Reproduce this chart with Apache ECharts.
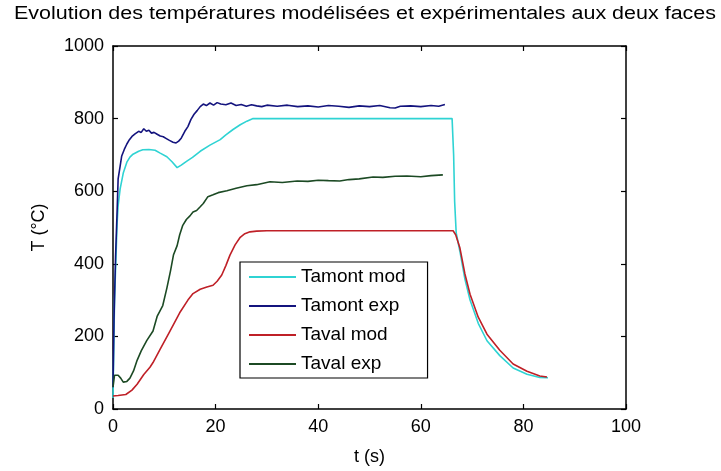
<!DOCTYPE html>
<html>
<head>
<meta charset="utf-8">
<script src="https://cdn.jsdelivr.net/npm/echarts@6/dist/echarts.min.js"></script>
<style>
  html, body { margin: 0; padding: 0; background: #fff; }
  #chart { width: 721px; height: 471px; }
</style>
</head>
<body>
<div id="chart"></div>
<script>
// Temperature histories (time in s, temperature in °C)
const titleText = 'Evolution des températures modélisées et expérimentales aux deux faces';
const seriesNames = ['Tamont mod', 'Tamont exp', 'Taval mod', 'Taval exp'];
const xTicks = [0, 20, 40, 60, 80, 100];
const yTicks = [0, 200, 400, 600, 800, 1000];

// Tamont mod (model, hot face)
const tAmontMod = [0, 0.3, 0.8, 1.0, 1.4, 2.0, 2.7, 3.3, 3.9, 5.0, 5.8, 7.0, 8.2, 9.2, 10.5, 11.5, 12.5, 13.3, 14.4, 15.5, 17.0, 18.9, 20.9, 22.0, 23.4, 24.8, 26.1, 27.3, 66.1, 66.4, 66.6, 66.9, 67.6, 68.6, 69.6, 71.2, 72.9, 75.4, 78.0, 80.7, 83.2, 84.8];
const vAmontMod = [30, 300, 511, 560, 607, 650, 680, 694, 702, 710, 714, 715, 713, 705, 695, 681, 665, 672, 683, 693, 710, 727, 742, 755, 770, 783, 793, 800, 800, 700, 571, 485, 436, 358, 300, 236, 188, 147, 113, 96, 87, 86];

// Tamont exp (measured, hot face)
const tAmontExp = [0, 0.2, 0.5, 0.8, 1.0, 1.4, 1.7, 2.2, 2.7, 3.2, 3.7, 4.3, 5.0, 5.5, 6.0, 6.5, 7.0, 7.5, 8.0, 8.6, 9.2, 9.8, 10.4, 11.0, 11.7, 12.3, 12.8, 13.3, 14.0, 14.6, 15.2, 15.8, 16.4, 17.0, 17.6, 18.2, 18.9, 19.6, 20.3, 21.0, 22, 23, 24, 25, 26, 27, 28, 29, 30, 32, 34, 36, 38, 40, 42, 44, 46, 48, 50, 52, 54, 55, 56, 58, 60, 62, 63.5, 64.7];
const vAmontExp = [60, 250, 420, 544, 634, 670, 697, 715, 730, 742, 751, 758, 765, 762, 772, 765, 768, 760, 762, 757, 752, 750, 745, 740, 735, 733, 738, 746, 765, 778, 798, 812, 822, 833, 840, 836, 843, 837, 844, 840, 838, 843, 836, 839, 834, 838, 835, 833, 837, 834, 837, 833, 835, 832, 836, 834, 831, 835, 833, 836, 830, 829, 834, 835, 833, 836, 834, 839];

// Taval mod (model, cold face)
const tAvalMod = [0, 1.0, 2.5, 3.7, 4.7, 6.0, 7.2, 7.8, 9.2, 11.0, 13.0, 14.6, 15.6, 17.0, 18.3, 19.5, 20.3, 21.2, 22.0, 22.8, 23.8, 24.8, 25.7, 26.7, 28.0, 30.0, 66.3, 66.8, 67.6, 68.6, 69.6, 71.2, 72.9, 75.4, 78.0, 80.7, 83.2, 84.6];
const vAvalMod = [36, 37, 40, 52, 68, 95, 115, 128, 165, 212, 265, 300, 318, 330, 336, 341, 352, 369, 395, 424, 452, 473, 483, 488, 490, 491, 491, 480, 445, 372, 316, 253, 206, 162, 124, 104, 91, 88];

// Taval exp (measured, cold face)
const tAvalExp = [0, 0.3, 1.0, 1.5, 2.0, 2.7, 3.3, 4.0, 4.7, 5.5, 6.6, 7.8, 8.6, 9.7, 10.5, 11.2, 11.8, 12.5, 13.0, 13.6, 14.3, 15.0, 15.6, 16.3, 17.0, 17.6, 18.5, 19.5, 20.5, 22.2, 24.0, 26.1, 28.0, 30.6, 33.0, 35.9, 38.0, 40.0, 42.0, 44.2, 46.0, 48.0, 50.7, 52.6, 55.0, 57.3, 60.0, 62.0, 64.3];
const vAvalExp = [60, 93, 93, 85, 74, 76, 85, 105, 134, 160, 189, 215, 255, 285, 333, 380, 425, 450, 480, 506, 522, 532, 543, 547, 557, 566, 585, 590, 596, 601, 608, 615, 618, 626, 624, 628, 627, 630, 629, 628, 632, 634, 639, 638, 641, 642, 640, 643, 645];

const colors = ['#2fd3d3', '#14147e', '#bf2027', '#1c4a24'];
const FONT = '"Liberation Sans", Arial, sans-serif';

function zip(t, v) { return t.map((x, i) => [x, v[i]]); }
const dataSets = [
  zip(tAmontMod, vAmontMod),
  zip(tAmontExp, vAmontExp),
  zip(tAvalMod, vAvalMod),
  zip(tAvalExp, vAvalExp)
];

// stretch the title horizontally to span the figure width
const mctx = document.createElement('canvas').getContext('2d');
mctx.font = '18px ' + FONT;
const titleScale = 702 / mctx.measureText(titleText).width;

const chart = echarts.init(document.getElementById('chart'), null, { renderer: 'canvas' });

const gridBox = { left: 113, right: 95, top: 46, bottom: 59 };

const baseX = {
  type: 'value', min: xTicks[0], max: xTicks[xTicks.length - 1], interval: 20,
  axisLine: { show: true, onZero: false, lineStyle: { color: '#000', width: 1.5 } },
  axisTick: { show: true, inside: true, length: 5, lineStyle: { color: '#000', width: 1.2 } },
  splitLine: { show: false }
};
const baseY = {
  type: 'value', min: yTicks[0], max: yTicks[yTicks.length - 1], interval: 200,
  axisLine: { show: true, onZero: false, lineStyle: { color: '#000', width: 1.5 } },
  axisTick: { show: true, inside: true, length: 5, lineStyle: { color: '#000', width: 1.2 } },
  splitLine: { show: false }
};
const plainNum = v => String(v);

chart.setOption({
  backgroundColor: '#fff',
  animation: false,
  graphic: [{
    type: 'text', x: 14, y: 5, scaleX: titleScale, scaleY: 1,
    style: { text: titleText, font: '18px ' + FONT, fill: '#000', textVerticalAlign: 'top' }
  }],
  legend: {
    orient: 'vertical', left: 240, top: 262,
    data: seriesNames.map(n => ({ name: n, icon: 'rect' })),
    borderColor: '#000', borderWidth: 1.2, borderRadius: 0,
    padding: [5, 22, 4, 9],
    itemWidth: 47, itemHeight: 2, itemGap: 9,
    textStyle: { fontFamily: FONT, fontSize: 19, color: '#000', lineHeight: 20 },
    backgroundColor: '#fff'
  },
  grid: gridBox,
  xAxis: [
    Object.assign({}, baseX, {
      position: 'bottom', name: 't (s)', nameLocation: 'middle', nameGap: 39,
      nameTextStyle: { fontFamily: FONT, fontSize: 18, color: '#000' },
      axisLabel: { show: true, margin: 9, fontFamily: FONT, fontSize: 18, color: '#000', formatter: plainNum }
    }),
    Object.assign({}, baseX, { position: 'top', axisLabel: { show: false } })
  ],
  yAxis: [
    Object.assign({}, baseY, {
      position: 'left', name: 'T (°C)', nameLocation: 'middle', nameGap: 65,
      nameTextStyle: { fontFamily: FONT, fontSize: 18, color: '#000' },
      axisLabel: { show: true, margin: 9, fontFamily: FONT, fontSize: 18, color: '#000', formatter: plainNum }
    }),
    Object.assign({}, baseY, { position: 'right', axisLabel: { show: false } })
  ],
  series: dataSets.map((d, i) => ({
    name: seriesNames[i], type: 'line', data: d,
    xAxisIndex: 0, yAxisIndex: 0,
    symbol: 'none', showSymbol: false, smooth: false,
    lineStyle: { color: colors[i], width: 1.6 },
    itemStyle: { color: colors[i] },
    z: 2 + i
  }))
});
</script>
</body>
</html>
